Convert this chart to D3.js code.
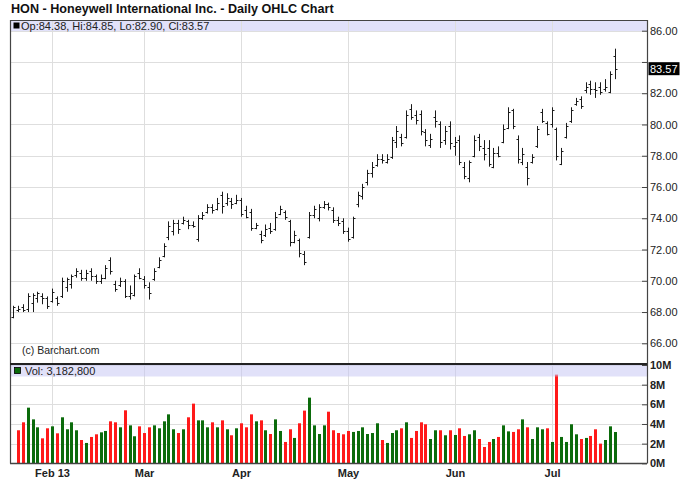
<!DOCTYPE html>
<html><head><meta charset="utf-8">
<script src="https://cdn.jsdelivr.net/npm/d3@7/dist/d3.min.js"></script>
<style>
html,body{margin:0;padding:0;background:#fff;}
svg{display:block;font-family:"Liberation Sans",Arial,sans-serif;}
</style></head><body>
<script>
// ---------- DATA ----------
const title = "HON - Honeywell International Inc. - Daily OHLC Chart";
const dates = [
"2013-01-22","2013-01-23","2013-01-24","2013-01-25","2013-01-28","2013-01-29","2013-01-30","2013-01-31",
"2013-02-01","2013-02-04","2013-02-05","2013-02-06","2013-02-07","2013-02-08","2013-02-11","2013-02-12","2013-02-13","2013-02-14","2013-02-15","2013-02-19","2013-02-20","2013-02-21","2013-02-22","2013-02-25","2013-02-26","2013-02-27","2013-02-28",
"2013-03-01","2013-03-04","2013-03-05","2013-03-06","2013-03-07","2013-03-08","2013-03-11","2013-03-12","2013-03-13","2013-03-14","2013-03-15","2013-03-18","2013-03-19","2013-03-20","2013-03-21","2013-03-22","2013-03-25","2013-03-26","2013-03-27","2013-03-28",
"2013-04-01","2013-04-02","2013-04-03","2013-04-04","2013-04-05","2013-04-08","2013-04-09","2013-04-10","2013-04-11","2013-04-12","2013-04-15","2013-04-16","2013-04-17","2013-04-18","2013-04-19","2013-04-22","2013-04-23","2013-04-24","2013-04-25","2013-04-26","2013-04-29","2013-04-30",
"2013-05-01","2013-05-02","2013-05-03","2013-05-06","2013-05-07","2013-05-08","2013-05-09","2013-05-10","2013-05-13","2013-05-14","2013-05-15","2013-05-16","2013-05-17","2013-05-20","2013-05-21","2013-05-22","2013-05-23","2013-05-24","2013-05-28","2013-05-29","2013-05-30","2013-05-31",
"2013-06-03","2013-06-04","2013-06-05","2013-06-06","2013-06-07","2013-06-10","2013-06-11","2013-06-12","2013-06-13","2013-06-14","2013-06-17","2013-06-18","2013-06-19","2013-06-20","2013-06-21","2013-06-24","2013-06-25","2013-06-26","2013-06-27","2013-06-28",
"2013-07-01","2013-07-02","2013-07-03","2013-07-05","2013-07-08","2013-07-09","2013-07-10","2013-07-11","2013-07-12","2013-07-15","2013-07-16","2013-07-17","2013-07-18","2013-07-19"];
const opens = [67.7,68.1,68.3,68.2,68.6,68.9,69.0,68.9,68.7,68.9,69.0,69.6,69.8,70.4,70.5,70.2,70.6,70.3,70.0,70.2,
71.3,69.8,69.7,70.0,69.0,69.1,70.5,70.1,69.6,70.1,70.9,71.6,72.8,73.2,73.7,73.7,73.8,73.6,72.7,74.0,
74.4,74.7,74.6,75.5,75.0,75.1,75.0,75.2,74.5,74.4,73.4,73.0,72.9,73.4,73.3,74.3,74.4,73.8,72.5,72.6,
71.7,72.8,74.2,74.0,74.7,74.9,74.5,73.9,73.8,73.2,72.8,74.9,75.4,76.3,76.9,77.4,77.8,77.6,77.9,78.9,
79.2,79.2,81.0,80.6,80.7,79.5,78.7,80.5,80.0,79.0,79.9,78.6,79.0,77.3,76.6,78.0,79.2,78.5,78.5,77.3,
78.2,78.9,79.8,80.9,79.1,77.6,77.3,77.6,78.6,80.8,80.1,80.0,79.7,77.5,79.2,80.2,81.3,81.6,82.2,82.6,
82.3,82.4,82.3,82.1,84.38];
const highs = [68.4,68.4,68.5,69.2,69.2,69.3,69.2,69.0,69.5,69.0,70.2,70.2,70.4,70.8,70.7,70.7,70.8,70.4,70.4,71.0,
71.5,70.0,70.2,70.1,69.7,70.4,70.8,70.3,69.9,70.8,71.5,72.4,73.8,73.9,73.9,74.1,73.9,73.8,74.2,74.4,
74.9,74.9,75.3,75.7,75.6,75.3,75.5,75.3,74.8,74.6,73.7,73.2,73.6,73.7,74.4,74.8,74.5,73.9,73.2,72.7,
71.9,74.4,74.8,74.9,75.1,75.0,74.7,74.1,74.0,73.4,74.1,75.7,76.2,77.1,77.6,78.1,78.1,78.1,79.2,79.9,
79.4,80.9,81.3,80.9,80.9,79.7,79.4,80.9,80.2,79.9,80.2,79.2,79.3,77.6,77.7,79.3,79.4,79.0,79.0,78.5,
78.6,80.0,81.1,81.0,79.3,78.5,77.6,78.1,79.9,81.0,80.2,81.1,79.8,78.5,80.1,81.1,81.7,81.8,82.7,82.8,
82.7,82.7,82.9,83.4,84.85];
const lows = [67.6,68.0,68.0,68.0,68.0,68.6,68.5,68.2,68.6,68.4,68.9,69.3,69.5,70.2,70.0,70.0,70.0,69.8,69.8,70.1,
70.4,69.3,69.6,68.9,68.8,69.0,70.1,69.5,68.8,70.0,70.8,71.5,72.6,72.9,73.0,73.6,73.3,73.4,72.5,73.9,
74.3,74.3,74.5,74.3,74.8,74.6,74.9,74.1,74.0,73.2,73.3,72.4,72.8,73.0,73.2,74.2,73.9,72.2,72.4,71.5,
71.0,72.7,74.0,73.8,74.6,74.5,73.7,73.5,73.0,72.5,72.7,74.7,75.2,76.1,76.6,77.3,77.5,77.5,77.8,78.5,
78.6,79.1,80.3,80.0,79.3,78.6,78.5,79.8,78.5,78.7,78.4,78.0,77.4,76.5,76.3,77.9,78.3,77.7,77.3,77.2,
77.9,78.8,79.7,79.7,77.5,77.4,76.1,77.5,78.5,80.1,79.3,79.8,77.7,77.4,79.1,80.1,81.2,81.0,82.0,81.9,
81.7,81.9,82.1,82.0,82.90];
const closes = [68.3,68.2,68.1,69.0,69.1,69.2,68.9,68.4,69.3,68.6,70.0,70.1,70.3,70.6,70.2,70.5,70.3,70.0,70.2,70.8,
70.6,69.5,70.0,69.0,69.2,70.3,70.2,69.7,69.2,70.6,71.3,72.2,73.5,73.7,73.3,73.9,73.6,73.5,74.0,74.2,
74.7,74.5,75.0,74.8,75.3,74.9,75.2,74.3,74.1,73.4,73.6,72.6,73.3,73.2,74.1,74.6,74.1,72.5,72.9,71.8,
71.2,74.2,74.6,74.7,74.9,74.7,73.9,73.7,73.2,72.7,74.0,75.5,76.0,76.9,77.3,77.8,77.7,77.8,79.0,79.6,
78.8,80.6,80.5,80.3,79.6,79.0,79.1,80.2,78.9,79.6,78.8,78.9,77.6,76.7,77.6,79.0,78.6,78.1,77.5,78.2,
78.0,79.7,80.8,79.9,77.8,78.1,76.6,77.9,79.7,80.2,79.4,80.9,78.0,78.3,79.9,80.9,81.5,81.2,82.4,82.3,
82.2,82.1,82.4,83.2,83.57];
// volume in millions of shares (first session not shown on the volume panel)
const volumes = [null,3.36,4.17,5.66,4.47,3.66,2.54,3.56,3.76,3.05,4.68,3.46,4.17,3.36,2.37,2.07,2.68,2.95,3.15,3.29,
4.27,4.17,3.66,5.39,3.86,2.75,3.76,3.08,3.66,3.86,3.56,4.27,4.98,3.46,3.08,3.46,4.68,6.07,4.37,4.37,
3.66,4.17,3.66,4.37,3.46,2.85,3.56,4.07,3.66,4.98,4.27,4.37,3.36,2.98,4.47,3.29,2.17,3.46,2.58,4.07,
5.36,6.68,3.86,2.98,3.86,5.25,3.36,3.08,2.95,3.29,3.19,3.29,3.66,2.98,3.08,4.07,2.37,2.07,3.08,3.36,
3.56,4.17,2.58,3.29,4.17,3.97,2.47,3.36,3.36,2.85,3.36,2.88,3.56,2.78,2.95,3.36,2.47,1.66,2.17,2.47,
2.68,3.86,3.25,3.19,3.46,4.47,3.66,2.47,3.66,3.46,3.56,2.17,9.02,2.68,2.17,3.97,2.95,2.47,2.58,2.78,
3.46,2.0,2.37,3.76,3.1828];
const priceTicks = [66,68,70,72,74,76,78,80,82,84,86];
const volTicks = [0,2,4,6,8,10];
const monthNames = ["Jan","Feb","Mar","Apr","May","Jun","Jul","Aug","Sep","Oct","Nov","Dec"];

// ---------- LAYOUT ----------
const W = 688, H = 503;
const L = 10, R = 647, pTop = 20, pBot = 363.5, vTop = 364.5, vBot = 463.5;
const FONT = '"Liberation Sans",Arial,sans-serif';

const svg = d3.select("body").append("svg").attr("width", W).attr("height", H);

const x = d3.scaleLinear().domain([0, dates.length - 1]).range([13.2, 614.6]);
const yP = d3.scaleLinear().domain([66, 86]).range([343.3, 30.7]);
const yV = d3.scaleLinear().domain([0, 10]).range([463.3, 365]);
const px = i => Math.round(x(i)) + 0.5;

// month starts
const parsed = dates.map(d => new Date(d + "T00:00:00"));
const monthStarts = [];
parsed.forEach((d, i) => {
  if (i > 0 && d.getMonth() !== parsed[i - 1].getMonth()) monthStarts.push(i);
});
const monthLabel = i => {
  const d = parsed[i];
  let s = monthNames[d.getMonth()];
  if (i === monthStarts[0]) s += " " + String(d.getFullYear()).slice(2);
  return s;
};

// price header band (under gridlines)
svg.append("rect").attr("x", L).attr("y", pTop).attr("width", R - L).attr("height", 11)
  .attr("fill", "#e1e1fa");

// gridlines
const grid = svg.append("g").attr("stroke", "#dedede").attr("stroke-width", 1);
grid.selectAll(".hp").data(priceTicks).join("line")
  .attr("x1", L).attr("x2", R).attr("y1", d => Math.round(yP(d)) + 0.5).attr("y2", d => Math.round(yP(d)) + 0.5);
grid.selectAll(".hv").data(volTicks.filter(d => d > 0)).join("line")
  .attr("x1", L).attr("x2", R).attr("y1", d => Math.round(yV(d)) + 0.5).attr("y2", d => Math.round(yV(d)) + 0.5);
grid.selectAll(".vm").data(monthStarts).join("line")
  .attr("x1", px).attr("x2", px).attr("y1", pTop).attr("y2", vBot);

// volume bars
const vb = svg.append("g");
vb.selectAll("rect").data(volumes.map((v, i) => ({v, i})).filter(d => d.v != null)).join("rect")
  .attr("x", d => Math.round(x(d.i)) - 1)
  .attr("width", 3)
  .attr("y", d => yV(d.v))
  .attr("height", d => yV(0) - yV(d.v))
  .attr("fill", d => closes[d.i] >= closes[d.i - 1] ? "#0b6b0b" : "#ff1a1a");

// volume header band (translucent, over bars)
svg.append("rect").attr("x", L).attr("y", vTop).attr("width", R - L).attr("height", 12)
  .attr("fill", "#c4c4f4").attr("fill-opacity", 0.5);

// OHLC bars
const ob = svg.append("g").attr("stroke", "#1a1a1a").attr("stroke-width", 1);
const idx = d3.range(dates.length);
ob.selectAll(".hl").data(idx).join("line")
  .attr("x1", px).attr("x2", px)
  .attr("y1", i => yP(highs[i])).attr("y2", i => yP(lows[i]));
ob.selectAll(".op").data(idx).join("line")
  .attr("x1", i => px(i) - 2).attr("x2", i => px(i))
  .attr("y1", i => Math.round(yP(opens[i])) + 0.5).attr("y2", i => Math.round(yP(opens[i])) + 0.5);
ob.selectAll(".cl").data(idx).join("line")
  .attr("x1", i => px(i)).attr("x2", i => px(i) + 2)
  .attr("y1", i => Math.round(yP(closes[i])) + 0.5).attr("y2", i => Math.round(yP(closes[i])) + 0.5);

// frame
const frame = svg.append("g").attr("stroke", "#444").attr("fill", "none");
frame.append("line").attr("x1", L).attr("x2", R).attr("y1", pTop + 0.5).attr("y2", pTop + 0.5).attr("stroke-width", 1.2);
frame.append("line").attr("x1", L + 0.5).attr("x2", L + 0.5).attr("y1", pTop).attr("y2", vBot).attr("stroke-width", 1.2);
frame.append("line").attr("x1", L).attr("x2", R).attr("y1", 364).attr("y2", 364).attr("stroke-width", 2.2).attr("stroke", "#222");
frame.append("line").attr("x1", L).attr("x2", R).attr("y1", vBot).attr("y2", vBot).attr("stroke-width", 1.4);

// right axes
const last = dates.length - 1;
const lastY = yP(closes[last]);
const pAxis = svg.append("g").attr("transform", `translate(${R},0)`)
  .call(d3.axisRight(yP).tickValues(priceTicks).tickFormat(d3.format(".2f")).tickSizeInner(-5).tickSizeOuter(0).tickPadding(3));
pAxis.select(".domain").remove();
pAxis.selectAll("text").filter(d => Math.abs(yP(d) - lastY) < 10).remove();
const vAxis = svg.append("g").attr("transform", `translate(${R},0)`)
  .call(d3.axisRight(yV).tickValues(volTicks).tickFormat(d => d + "M").tickSizeInner(-5).tickSizeOuter(0).tickPadding(3));
vAxis.select(".domain").remove();
[pAxis, vAxis].forEach(a => {
  a.selectAll("line").attr("stroke", "#444");
  a.selectAll("text").attr("font-family", FONT).attr("font-size", 11).attr("fill", "#222");
});
vAxis.selectAll("text").attr("font-weight", "bold");
svg.append("line").attr("x1", R + 0.5).attr("x2", R + 0.5).attr("y1", pTop).attr("y2", vBot)
  .attr("stroke", "#444").attr("stroke-width", 1.2);

// last price tag
svg.append("rect").attr("x", R + 1.5).attr("y", lastY - 6.5).attr("width", 31).attr("height", 13).attr("fill", "#000");
svg.append("text").attr("x", R + 3).attr("y", lastY + 4).attr("font-family", FONT).attr("font-size", 11)
  .attr("fill", "#fff").text(d3.format(".2f")(closes[last]));

// month labels
svg.append("g").selectAll("text").data(monthStarts).join("text")
  .attr("x", px).attr("y", 477).attr("text-anchor", "middle")
  .attr("font-family", FONT).attr("font-size", 11).attr("font-weight", "bold").attr("fill", "#222")
  .text(monthLabel);

// title
svg.append("text").attr("x", 11).attr("y", 13).attr("font-family", FONT).attr("font-size", 12.6)
  .attr("font-weight", "bold").attr("fill", "#111").text(title);

// legends
svg.append("rect").attr("x", 13.5).attr("y", 22.5).attr("width", 6).attr("height", 6).attr("fill", "#000");
const f2 = d3.format(".2f");
svg.append("text").attr("x", 21).attr("y", 29.5).attr("font-family", FONT).attr("font-size", 11).attr("fill", "#222")
  .text(`Op:${f2(opens[last])}, Hi:${f2(highs[last])}, Lo:${f2(lows[last])}, Cl:${f2(closes[last])}`);
svg.append("rect").attr("x", 14.5).attr("y", 367.5).attr("width", 6).attr("height", 6).attr("fill", "#0b6b0b").attr("stroke", "#000").attr("stroke-width", 0.8);
svg.append("text").attr("x", 25).attr("y", 375).attr("font-family", FONT).attr("font-size", 11).attr("fill", "#222")
  .text("Vol: " + d3.format(",")(Math.round(volumes[last] * 1e6)));

svg.append("text").attr("x", 22).attr("y", 354).attr("font-family", FONT).attr("font-size", 10.5).attr("fill", "#222")
  .text("(c) Barchart.com");
</script>
</body></html>
